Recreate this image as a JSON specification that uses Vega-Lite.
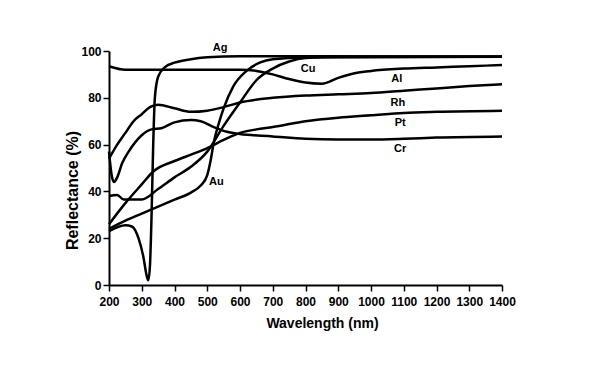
{
  "$schema": "https://vega.github.io/schema/vega-lite/v6.json",
  "width": 393,
  "height": 234,
  "autosize": {"type": "none"},
  "padding": {"left": 109, "top": 51, "right": 108, "bottom": 93},
  "background": "white",
  "config": {
    "view": {"stroke": null},
    "font": "Liberation Sans Narrow, Liberation Sans",
    "axis": {
      "domainColor": "black",
      "domainWidth": 2,
      "tickColor": "black",
      "tickWidth": 1.5,
      "tickSize": 6,
      "grid": false,
      "labelColor": "black",
      "labelFont": "Liberation Sans Narrow, Liberation Sans",
      "labelFontWeight": "bold",
      "labelFontSize": 12,
      "titleColor": "black",
      "titleFont": "Liberation Sans Narrow, Liberation Sans",
      "titleFontWeight": "bold",
      "titleFontSize": 14
    }
  },
  "datasets": {
    "curves": [
      {"metal": "Ag", "wl": 200, "r": 23},
      {"metal": "Ag", "wl": 250, "r": 25.5},
      {"metal": "Ag", "wl": 270, "r": 25},
      {"metal": "Ag", "wl": 290, "r": 20},
      {"metal": "Ag", "wl": 305, "r": 12},
      {"metal": "Ag", "wl": 315, "r": 4},
      {"metal": "Ag", "wl": 320, "r": 2},
      {"metal": "Ag", "wl": 325, "r": 8},
      {"metal": "Ag", "wl": 330, "r": 30},
      {"metal": "Ag", "wl": 335, "r": 60},
      {"metal": "Ag", "wl": 340, "r": 80},
      {"metal": "Ag", "wl": 350, "r": 89},
      {"metal": "Ag", "wl": 370, "r": 93},
      {"metal": "Ag", "wl": 400, "r": 95},
      {"metal": "Ag", "wl": 450, "r": 96.5},
      {"metal": "Ag", "wl": 500, "r": 97.3},
      {"metal": "Ag", "wl": 600, "r": 97.8},
      {"metal": "Ag", "wl": 800, "r": 97.8},
      {"metal": "Ag", "wl": 1400, "r": 97.6},
      {"metal": "Al", "wl": 200, "r": 93.5},
      {"metal": "Al", "wl": 250, "r": 92},
      {"metal": "Al", "wl": 300, "r": 92},
      {"metal": "Al", "wl": 400, "r": 92},
      {"metal": "Al", "wl": 500, "r": 92},
      {"metal": "Al", "wl": 600, "r": 92},
      {"metal": "Al", "wl": 650, "r": 91.5},
      {"metal": "Al", "wl": 700, "r": 90},
      {"metal": "Al", "wl": 750, "r": 88},
      {"metal": "Al", "wl": 800, "r": 86.5},
      {"metal": "Al", "wl": 850, "r": 86},
      {"metal": "Al", "wl": 900, "r": 88.5},
      {"metal": "Al", "wl": 950, "r": 90.5},
      {"metal": "Al", "wl": 1000, "r": 91.5},
      {"metal": "Al", "wl": 1100, "r": 92.5},
      {"metal": "Al", "wl": 1200, "r": 93},
      {"metal": "Al", "wl": 1300, "r": 93.5},
      {"metal": "Al", "wl": 1400, "r": 94},
      {"metal": "Au", "wl": 200, "r": 24},
      {"metal": "Au", "wl": 250, "r": 27.5},
      {"metal": "Au", "wl": 300, "r": 30.5},
      {"metal": "Au", "wl": 350, "r": 33.5},
      {"metal": "Au", "wl": 400, "r": 36.5},
      {"metal": "Au", "wl": 450, "r": 39.5},
      {"metal": "Au", "wl": 480, "r": 42.5},
      {"metal": "Au", "wl": 500, "r": 47},
      {"metal": "Au", "wl": 510, "r": 53},
      {"metal": "Au", "wl": 520, "r": 61},
      {"metal": "Au", "wl": 535, "r": 69},
      {"metal": "Au", "wl": 550, "r": 75.5},
      {"metal": "Au", "wl": 580, "r": 85},
      {"metal": "Au", "wl": 620, "r": 91.5},
      {"metal": "Au", "wl": 660, "r": 95},
      {"metal": "Au", "wl": 700, "r": 96.5},
      {"metal": "Au", "wl": 800, "r": 97.2},
      {"metal": "Au", "wl": 1400, "r": 97.5},
      {"metal": "Cu", "wl": 200, "r": 38},
      {"metal": "Cu", "wl": 225, "r": 38.5},
      {"metal": "Cu", "wl": 245, "r": 36.5},
      {"metal": "Cu", "wl": 300, "r": 36.5},
      {"metal": "Cu", "wl": 350, "r": 41},
      {"metal": "Cu", "wl": 400, "r": 46},
      {"metal": "Cu", "wl": 450, "r": 50.5},
      {"metal": "Cu", "wl": 500, "r": 57},
      {"metal": "Cu", "wl": 550, "r": 68},
      {"metal": "Cu", "wl": 600, "r": 78},
      {"metal": "Cu", "wl": 650, "r": 87.5},
      {"metal": "Cu", "wl": 700, "r": 92.5},
      {"metal": "Cu", "wl": 750, "r": 95.5},
      {"metal": "Cu", "wl": 800, "r": 97},
      {"metal": "Cu", "wl": 900, "r": 97.5},
      {"metal": "Cu", "wl": 1400, "r": 97.5},
      {"metal": "Rh", "wl": 200, "r": 54},
      {"metal": "Rh", "wl": 225, "r": 60},
      {"metal": "Rh", "wl": 250, "r": 65},
      {"metal": "Rh", "wl": 275, "r": 70},
      {"metal": "Rh", "wl": 300, "r": 73},
      {"metal": "Rh", "wl": 325, "r": 76},
      {"metal": "Rh", "wl": 350, "r": 77},
      {"metal": "Rh", "wl": 400, "r": 75.5},
      {"metal": "Rh", "wl": 450, "r": 74},
      {"metal": "Rh", "wl": 500, "r": 74.5},
      {"metal": "Rh", "wl": 550, "r": 76},
      {"metal": "Rh", "wl": 600, "r": 78},
      {"metal": "Rh", "wl": 700, "r": 80},
      {"metal": "Rh", "wl": 800, "r": 81},
      {"metal": "Rh", "wl": 900, "r": 81.5},
      {"metal": "Rh", "wl": 1000, "r": 82},
      {"metal": "Rh", "wl": 1100, "r": 83},
      {"metal": "Rh", "wl": 1200, "r": 84},
      {"metal": "Rh", "wl": 1300, "r": 85},
      {"metal": "Rh", "wl": 1400, "r": 85.8},
      {"metal": "Pt", "wl": 200, "r": 26},
      {"metal": "Pt", "wl": 250, "r": 35},
      {"metal": "Pt", "wl": 300, "r": 43},
      {"metal": "Pt", "wl": 335, "r": 48.5},
      {"metal": "Pt", "wl": 400, "r": 53},
      {"metal": "Pt", "wl": 456, "r": 56},
      {"metal": "Pt", "wl": 500, "r": 58.5},
      {"metal": "Pt", "wl": 550, "r": 62},
      {"metal": "Pt", "wl": 600, "r": 65},
      {"metal": "Pt", "wl": 650, "r": 66.5},
      {"metal": "Pt", "wl": 700, "r": 67.5},
      {"metal": "Pt", "wl": 800, "r": 70},
      {"metal": "Pt", "wl": 900, "r": 71.5},
      {"metal": "Pt", "wl": 1000, "r": 72.5},
      {"metal": "Pt", "wl": 1100, "r": 73.5},
      {"metal": "Pt", "wl": 1200, "r": 74},
      {"metal": "Pt", "wl": 1400, "r": 74.5},
      {"metal": "Cr", "wl": 200, "r": 57},
      {"metal": "Cr", "wl": 208, "r": 47},
      {"metal": "Cr", "wl": 215, "r": 44},
      {"metal": "Cr", "wl": 225, "r": 46},
      {"metal": "Cr", "wl": 240, "r": 52},
      {"metal": "Cr", "wl": 260, "r": 57},
      {"metal": "Cr", "wl": 300, "r": 64},
      {"metal": "Cr", "wl": 330, "r": 66.5},
      {"metal": "Cr", "wl": 360, "r": 67},
      {"metal": "Cr", "wl": 400, "r": 69.5},
      {"metal": "Cr", "wl": 450, "r": 70.5},
      {"metal": "Cr", "wl": 480, "r": 70},
      {"metal": "Cr", "wl": 520, "r": 67.5},
      {"metal": "Cr", "wl": 560, "r": 65.5},
      {"metal": "Cr", "wl": 600, "r": 64.5},
      {"metal": "Cr", "wl": 700, "r": 63.5},
      {"metal": "Cr", "wl": 800, "r": 62.5},
      {"metal": "Cr", "wl": 900, "r": 62.2},
      {"metal": "Cr", "wl": 1000, "r": 62.2},
      {"metal": "Cr", "wl": 1100, "r": 62.5},
      {"metal": "Cr", "wl": 1200, "r": 63},
      {"metal": "Cr", "wl": 1400, "r": 63.5}
    ],
    "labels": [
      {"label": "Ag", "wl": 539, "r": 101.4},
      {"label": "Cu", "wl": 808, "r": 92.2},
      {"label": "Al", "wl": 1079, "r": 87.9},
      {"label": "Rh", "wl": 1082, "r": 77.9},
      {"label": "Pt", "wl": 1089, "r": 69.4},
      {"label": "Cr", "wl": 1089, "r": 58},
      {"label": "Au", "wl": 528, "r": 44}
    ]
  },
  "encoding": {
    "x": {
      "field": "wl", "type": "quantitative",
      "scale": {"domain": [200, 1400], "nice": false, "zero": false},
      "axis": {"values": [200,300,400,500,600,700,800,900,1000,1100,1200,1300,1400], "format": "d", "labelFontSize": 12, "labelOverlap": false, "labelFlush": false, "labelPadding": 5, "title": "Wavelength (nm)", "titlePadding": 9, "titleX": 213}
    },
    "y": {
      "field": "r", "type": "quantitative",
      "scale": {"domain": [0, 100], "nice": false},
      "axis": {"values": [0,20,40,60,80,100], "format": "d", "labelPadding": 2, "labelFlush": false, "title": "Reflectance (%)", "titleFontSize": 16, "titleX": -37, "titleY": 139, "titleAngle": -90, "titleBaseline": "middle", "titleAlign": "center"}
    }
  },
  "layer": [
    {
      "data": {"name": "curves"},
      "mark": {"type": "line", "color": "black", "strokeWidth": 2.5, "interpolate": "monotone", "clip": false},
      "encoding": {
        "detail": {"field": "metal", "type": "nominal"},
        "order": {"field": "wl", "type": "quantitative"}
      }
    },
    {
      "data": {"name": "labels"},
      "mark": {"type": "text", "color": "black", "fontWeight": "bold", "fontSize": 11, "font": "Liberation Sans Narrow, Liberation Sans", "baseline": "middle", "align": "center", "clip": false},
      "encoding": {
        "text": {"field": "label", "type": "nominal"}
      }
    }
  ]
}
